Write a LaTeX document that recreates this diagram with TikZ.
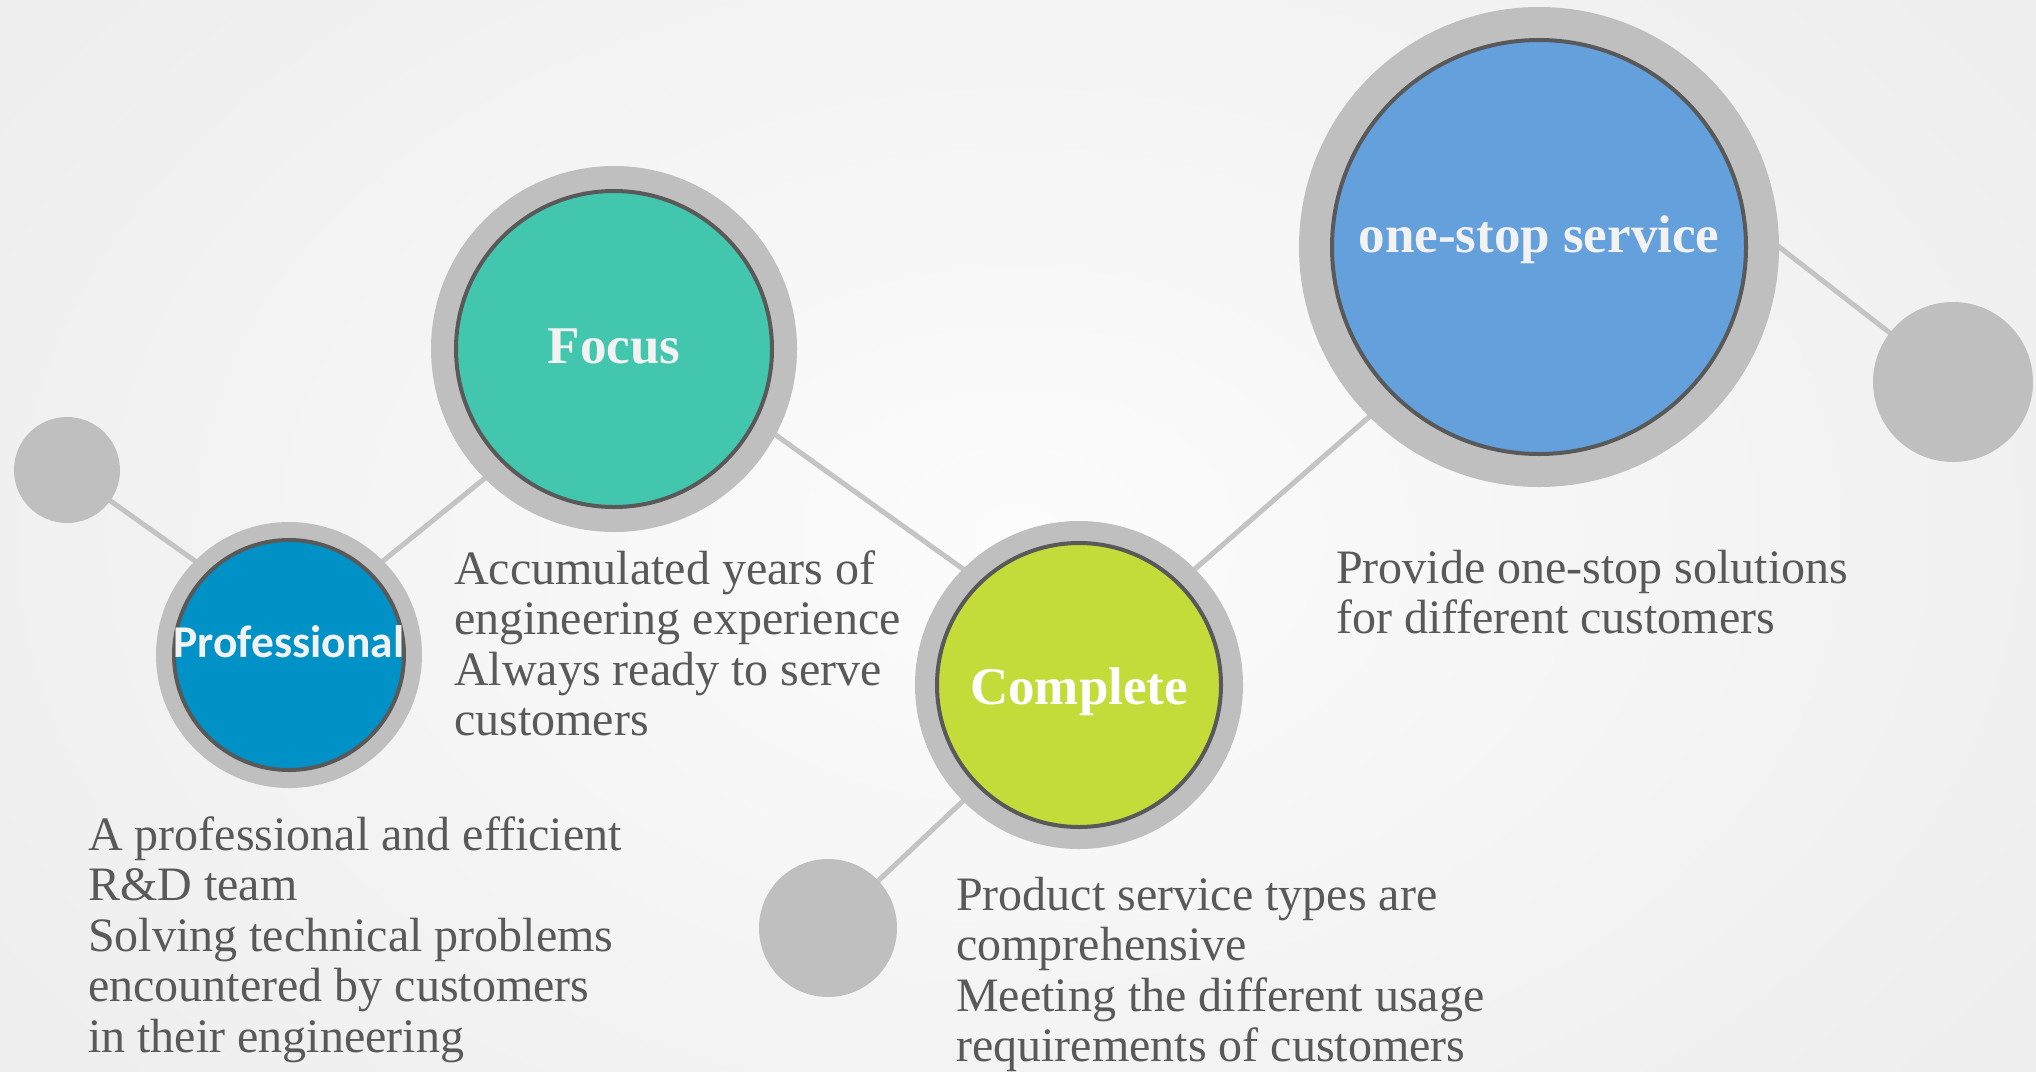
\documentclass[tikz,border=0pt]{standalone}
\usepackage{fontspec}
\setmainfont{Liberation Serif}
\newfontfamily\carlitofont{Carlito}
\pgfdeclarelayer{bglayer}
\pgfsetlayers{bglayer,main}
\definecolor{ringgray}{HTML}{BFBFBF}
\definecolor{linegray}{HTML}{C4C4C4}
\definecolor{coreedge}{HTML}{595959}
\definecolor{bodygray}{HTML}{595959}
\definecolor{labelwhite}{HTML}{F2F2F2}
\definecolor{profblue}{HTML}{0092C6}
\definecolor{focusgreen}{HTML}{43C6AE}
\definecolor{complime}{HTML}{C3DC3A}
\definecolor{osblue}{HTML}{64A0DC}
\definecolor{bgin}{HTML}{FCFCFC}
\definecolor{bgout}{HTML}{EEEEEE}
\begin{document}
\begin{tikzpicture}[x=1pt,y=-1pt,
  ringnode/.style={circle, fill=ringgray, inner sep=0pt, minimum size=#1},
  corenode/.style={circle, draw=coreedge, line width=4pt, inner sep=0pt, minimum size=#1},
  greydot/.style={circle, fill=ringgray, inner sep=0pt, minimum size=#1},
  link/.style={draw=linegray, line width=5pt, shorten >=-8pt, shorten <=-8pt},
  lbl/.style={anchor=base, inner sep=0pt, text=labelwhite, font=\fontsize{53}{60}\selectfont\bfseries},
  body/.style={anchor=base west, inner sep=0pt, text=bodygray}
]
\useasboundingbox (0,0) rectangle (2036,1071);
\begin{pgfonlayer}{bglayer}
  \shade[inner color=bgin, outer color=bgout] (-200,-300) rectangle (2236,1371);
\end{pgfonlayer}

% grey dots
\node[greydot=106pt] (gl) at (67,470) {};
\node[greydot=160pt] (gr) at (1953,382) {};
\node[greydot=138pt] (gb) at (828,928) {};

% rings
\node[ringnode=266pt] (profring) at (289,655) {};
\node[ringnode=366pt] (focusring) at (614,349) {};
\node[ringnode=328pt] (compring) at (1079,685) {};
\node[ringnode=480pt] (osring) at (1539,247) {};

% cores
\node[corenode=230pt, fill=profblue] (profcore) at (profring.center) {};
\node[corenode=316pt, fill=focusgreen] (focuscore) at (focusring.center) {};
\node[corenode=284pt, fill=complime] (compcore) at (compring.center) {};
\node[corenode=414pt, fill=osblue] (oscore) at (osring.center) {};

% labels
\node[lbl, font=\fontsize{45.5}{50}\selectfont\carlitofont\bfseries] (proflbl) at ([yshift=-2pt]profcore.center) {Professional};
\node[lbl] (focuslbl) at ([yshift=-14pt]focuscore.center) {Focus};
\node[lbl, text=white] (complbl) at ([yshift=-19pt]compcore.center) {Complete};
\node[lbl] (oslbl) at ([yshift=-5pt]oscore.center) {one-stop service};

% connectors
\begin{pgfonlayer}{bglayer}
  \draw[link] (gl.center) -- (profring.135);
  \draw[link] (profring.45) -- (focusring.225);
  \draw[link] (focusring.-28) -- (compring.135);
  \draw[link] (compring.225) -- (gb.center);
  \draw[link] (compring.45) -- (osring.225);
  \draw[link] (osring.east) -- (gr.center);
\end{pgfonlayer}

% body texts
\node[body] (t1) at (88,850) {\parbox[t]{700pt}{\raggedright\fontsize{48}{50.5}\selectfont
A professional and efficient\\R\&D team\\Solving technical problems\\encountered by customers\\in their engineering}};
\node[body] (t2) at (454,584) {\parbox[t]{700pt}{\raggedright\fontsize{48}{50.5}\selectfont
Accumulated years of\\engineering experience\\Always ready to serve\\customers}};
\node[body] (t3) at (956,910) {\parbox[t]{700pt}{\raggedright\fontsize{48}{50.5}\selectfont
Product service types are\\comprehensive\\Meeting the different usage\\requirements of customers}};
\node[body] (t4) at (1336,583) {\parbox[t]{650pt}{\raggedright\fontsize{48}{50.5}\selectfont
Provide one-stop solutions\\for different customers}};
\end{tikzpicture}
\end{document}
